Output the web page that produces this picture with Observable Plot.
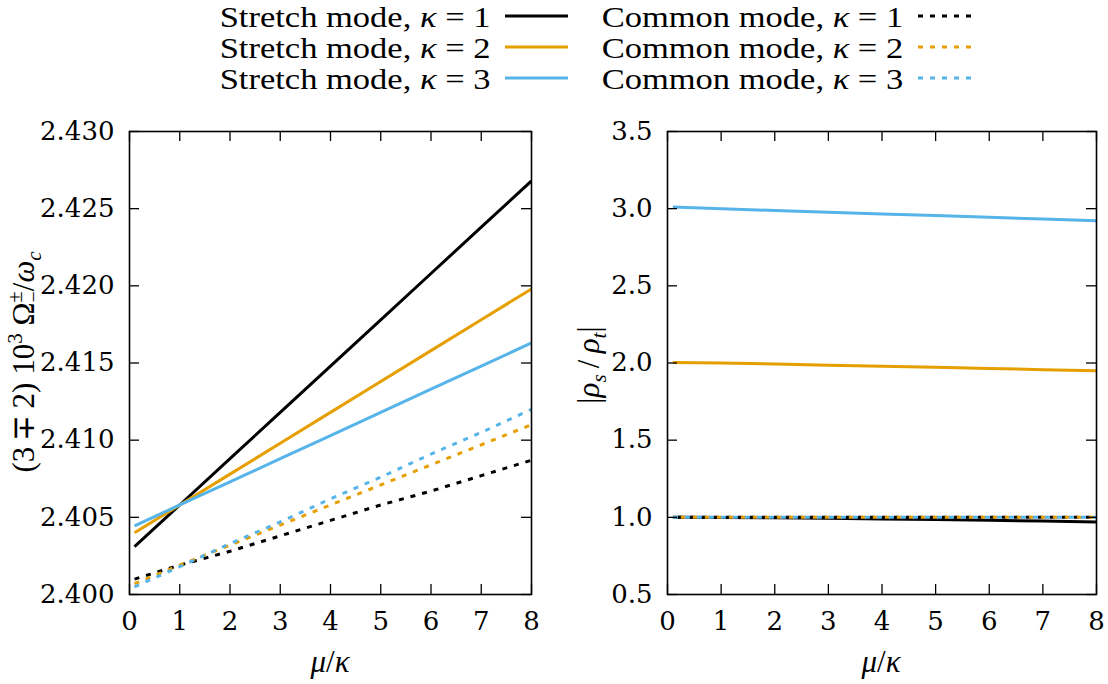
<!DOCTYPE html>
<html><head><meta charset="utf-8">
<script src="https://cdn.jsdelivr.net/npm/d3@7"></script>
<script src="https://cdn.jsdelivr.net/npm/@observablehq/plot@0.6"></script>
<style>
body{margin:0;background:white;}
#root{position:relative;width:1108px;height:684px;font-family:"Liberation Serif",serif;color:black;overflow:hidden;}
.leg{position:absolute;font-size:30px;line-height:30px;white-space:nowrap;text-align:right;transform:scaleX(1.15);transform-origin:right center;}
.panel{position:absolute;top:100px;}
.lab{position:absolute;font-size:31px;line-height:34px;white-space:nowrap;transform:translate(-50%,-50%);}
.rot{transform:translate(-50%,-50%) rotate(-90deg);}
.lab sub,.lab sup{font-size:21px;line-height:0;}
.ss{display:inline-block;vertical-align:middle;font-size:20px;line-height:18px;text-align:left;margin-top:-6px;}
.ss span{display:block;}
</style></head><body><div id="root"></div>
<script>
// ---- data ----
const xs = [0.1, 1, 2, 3, 4, 5, 6, 7, 8];
const kappas = [1, 2, 3];
const colors = ["#000000", "#E69F00", "#56B4E9"];
// left panel: (3 ∓ 2) 10^3 Ω/ω_c
const freqStretch1 = [2.4031, 2.4058, 2.4088, 2.4118, 2.4148, 2.4178, 2.4208, 2.4238, 2.4268];
const freqStretch2 = [2.4040, 2.4058, 2.4078, 2.4098, 2.4118, 2.4138, 2.4158, 2.4178, 2.4198];
const freqStretch3 = [2.40445, 2.4058, 2.4073, 2.4088, 2.4103, 2.4118, 2.4133, 2.4148, 2.4163];
const freqCommon1 = [2.4010, 2.4019, 2.4028, 2.4038, 2.4048, 2.4058, 2.4067, 2.4077, 2.4087];
const freqCommon2 = [2.4007, 2.4019, 2.4032, 2.4045, 2.4058, 2.4071, 2.4084, 2.4097, 2.4110];
const freqCommon3 = [2.4005, 2.4018, 2.4033, 2.4047, 2.4062, 2.4076, 2.4091, 2.4105, 2.4120];
// right panel: |rho_s / rho_t|
const ratioStretch1 = [1.000, 0.999, 0.997, 0.994, 0.990, 0.986, 0.981, 0.976, 0.970];
const ratioStretch2 = [2.004, 2.000, 1.993, 1.986, 1.979, 1.972, 1.965, 1.957, 1.949];
const ratioStretch3 = [3.010, 2.999, 2.988, 2.977, 2.966, 2.955, 2.944, 2.933, 2.922];
const ratioCommon1 = [1.000, 1.000, 1.000, 1.000, 1.000, 1.000, 1.000, 1.000, 1.000];
const ratioCommon2 = [1.000, 1.000, 1.000, 1.000, 1.000, 1.000, 1.000, 1.000, 1.000];
const ratioCommon3 = [1.000, 1.000, 1.000, 1.000, 1.000, 1.000, 1.000, 1.000, 1.000];
// ticks
const xTicks = [0, 1, 2, 3, 4, 5, 6, 7, 8];
const yTicksLeft = [2.400, 2.405, 2.410, 2.415, 2.420, 2.425, 2.430];
const yTicksRight = [0.5, 1.0, 1.5, 2.0, 2.5, 3.0, 3.5];
const modeNames = ["Stretch mode", "Common mode"];

const rows = vals => xs.map((x, i) => ({x, y: vals[i]}));
const leftSeries = [
  {mode: 0, k: 0, v: freqStretch1}, {mode: 0, k: 1, v: freqStretch2}, {mode: 0, k: 2, v: freqStretch3},
  {mode: 1, k: 0, v: freqCommon1}, {mode: 1, k: 1, v: freqCommon2}, {mode: 1, k: 2, v: freqCommon3}
];
const rightSeries = [
  {mode: 0, k: 0, v: ratioStretch1}, {mode: 0, k: 1, v: ratioStretch2}, {mode: 0, k: 2, v: ratioStretch3},
  {mode: 1, k: 0, v: ratioCommon1}, {mode: 1, k: 1, v: ratioCommon2}, {mode: 1, k: 2, v: ratioCommon3}
];

const root = document.getElementById("root");
const W = 554, H = 584;
const DASH = "5,7";
const FONT = "DejaVu Serif, Liberation Serif, serif";

function panel(opts) {
  const {series, yDomain, yTicks, fmt, ml, mr, mt, mb, dashOffsets} = opts;
  const pw = W - ml - mr, ph = H - mt - mb;
  const lineMarks = series.map(s => Plot.line(rows(s.v), {
    x: "x", y: "y", stroke: colors[s.k], strokeWidth: 3,
    strokeDasharray: s.mode === 1 ? DASH : null,
    strokeDashoffset: s.mode === 1 ? dashOffsets[s.k] : null,
    strokeLinecap: "butt", strokeLinejoin: "round", clip: true
  }));
  const tk = {stroke: "black", strokeWidth: 1.3};
  return Plot.plot({
    width: W, height: H, marginLeft: ml, marginRight: mr, marginTop: mt, marginBottom: mb,
    style: {fontSize: "26px", fontFamily: FONT, color: "black", background: "white", overflow: "visible"},
    x: {domain: [0, 8]},
    y: {domain: yDomain},
    marks: [
      ...lineMarks,
      Plot.tickY(yTicks, {y: d => d, insetRight: pw - 10, ...tk}),
      Plot.tickY(yTicks, {y: d => d, insetLeft: pw - 10, ...tk}),
      Plot.tickX(xTicks, {x: d => d, insetTop: ph - 10, ...tk}),
      Plot.tickX(xTicks, {x: d => d, insetBottom: ph - 10, ...tk}),
      Plot.frame({stroke: "black", strokeWidth: 1.6}),
      Plot.axisY(yTicks, {tickSize: 0, tickPadding: 15, tickFormat: fmt, label: null, fontSize: 26, fontFamily: FONT}),
      Plot.axisX(xTicks, {tickSize: 0, tickPadding: 17, label: null, fontSize: 26, fontFamily: FONT})
    ]
  });
}

const left = panel({series: leftSeries, yDomain: [2.400, 2.430], yTicks: yTicksLeft, fmt: d => d.toFixed(3),
  ml: 129, mr: 23, mt: 31, mb: 90, dashOffsets: [0, 0, 0]});
const right = panel({series: rightSeries, yDomain: [0.5, 3.5], yTicks: yTicksRight, fmt: d => d.toFixed(1),
  ml: 113, mr: 12, mt: 31, mb: 90, dashOffsets: [7, 4, 0]});
left.classList.add("panel"); left.style.left = "0px";
right.classList.add("panel"); right.style.left = "554px";
root.appendChild(left);
root.appendChild(right);

// axis labels (HTML rich text)
function label(html, x, y, rotated) {
  const d = document.createElement("div");
  d.className = "lab" + (rotated ? " rot" : "");
  d.style.left = x + "px";
  d.style.top = y + "px";
  d.innerHTML = html;
  root.appendChild(d);
}
const xLabelHtml = "<i>μ</i>/<i>κ</i>";
label(xLabelHtml, 330, 662, false);
label(xLabelHtml, 881, 662, false);
label("(3&thinsp;∓&thinsp;2)&nbsp;10<sup>3</sup>&nbsp;Ω<span class='ss'><span>±</span><span>−</span></span>/<i>ω<sub>c</sub></i>", 24, 362, true);
label("|<i>ρ<sub>s</sub></i>&thinsp;/&thinsp;<i>ρ<sub>t</sub></i>|", 589, 365, true);

// legend
const legendRowsY = [17, 48, 79];
const legendCols = [{textRight: 490, x1: 505, x2: 568}, {textRight: 903, x1: 918, x2: 975}];
const legSvg = d3.select(root).append("svg").attr("width", 1108).attr("height", 100)
  .style("position", "absolute").style("left", "0px").style("top", "0px");
modeNames.forEach((m, mi) => {
  const col = legendCols[mi];
  kappas.forEach((k, ki) => {
    const div = document.createElement("div");
    div.className = "leg";
    div.style.right = (1108 - col.textRight) + "px";
    div.style.top = (legendRowsY[ki] - 15) + "px";
    div.innerHTML = `${m}, <i>κ</i> = ${k}`;
    root.appendChild(div);
    legSvg.append("line").attr("x1", col.x1).attr("x2", col.x2)
      .attr("y1", legendRowsY[ki] - 1).attr("y2", legendRowsY[ki] - 1)
      .attr("stroke", colors[ki]).attr("stroke-width", 3)
      .attr("stroke-dasharray", mi === 1 ? DASH : null);
  });
});
</script></body></html>
